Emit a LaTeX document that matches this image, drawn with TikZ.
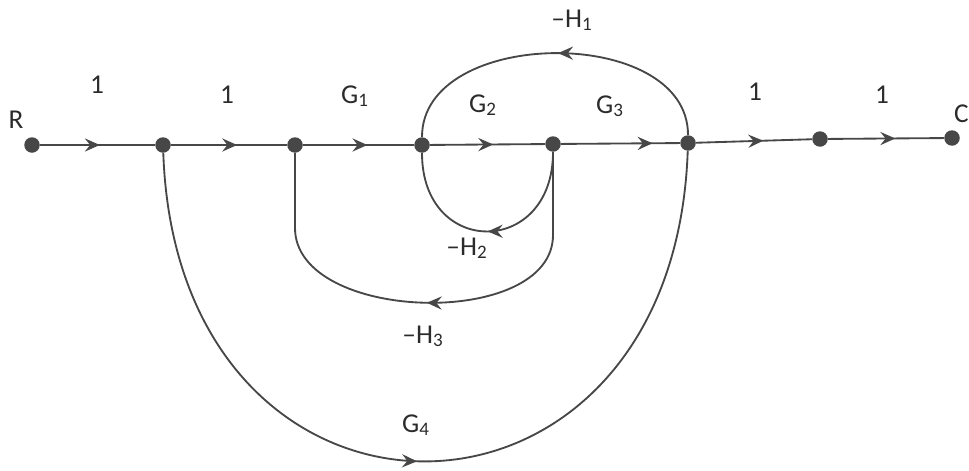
\documentclass[tikz,border=0pt]{standalone}
\usepackage{fontspec}
\setmainfont{Carlito}
\definecolor{ink}{HTML}{474747}
\definecolor{txt}{HTML}{2B2B2B}
\usetikzlibrary{arrows.meta, decorations.markings}

\begin{document}
\begin{tikzpicture}[
  dot/.style={circle, fill=ink, minimum size=0.31cm, inner sep=0pt},
  branch/.style={draw=ink, line width=1.05pt},
  flow/.style={postaction={decorate}, decoration={markings,
      mark=at position #1 with {\arrow{Stealth[length=8.5pt, width=7.5pt, inset=3pt]}}}},
  flow/.default=0.55,
  gain/.style={text=txt, anchor=base, inner sep=0pt, font=\fontsize{15.5}{18}\selectfont},
]
\useasboundingbox (0,0) rectangle (19.38,9.4);

\node[dot] (n1) at (0.64,6.5) {};
\node[dot] (n2) at (3.26,6.5) {};
\node[dot] (n3) at (5.9,6.5) {};
\node[dot] (n4) at (8.44,6.5) {};
\node[dot] (n5) at (11.06,6.52) {};
\node[dot] (n6) at (13.76,6.54) {};
\node[dot] (n7) at (16.4,6.62) {};
\node[dot] (n8) at (19.04,6.64) {};
\coordinate (h3r) at (11.06,4.7);
\coordinate (h3l) at (5.9,4.84);

\draw[branch, flow=0.52] (n1) -- (n2);
\draw[branch, flow=0.57] (n2) -- (n3);
\draw[branch, flow=0.58] (n3) -- (n4);
\draw[branch, flow=0.55] (n4) -- (n5);
\draw[branch, flow=0.77] (n5) -- (n6);
\draw[branch, flow=0.58] (n6) -- (n7);
\draw[branch, flow=0.58] (n7) -- (n8);

\draw[branch, flow=0.49] (n6) to[out=90, in=90, looseness=1.06] (n4);
\draw[branch, flow=0.5] (n5) to[out=-90, in=-90, looseness=2.05] (n4);
\draw[branch, flow=0.5] (n5) -- (h3r) to[out=-90, in=-90, looseness=0.94] (h3l) -- (n3);
\draw[branch, flow=0.49] (n2) to[out=-88, in=-92, looseness=2.01] (n6);

\node[gain] (lR) at (0.32,6.84) {R};
\node[gain] (l12) at (1.94,7.54) {1};
\node[gain] (l23) at (4.54,7.34) {1};
\node[gain] (lG1) at (7.1,7.34) {G\textsubscript{1}};
\node[gain] (lG2) at (9.66,7.16) {G\textsubscript{2}};
\node[gain] (lG3) at (12.2,7.14) {G\textsubscript{3}};
\node[gain] (l67) at (15.1,7.4) {1};
\node[gain] (l78) at (17.64,7.34) {1};
\node[gain, anchor=base east] (lC) at (19.38,6.96) {C};
\node[gain] (lH1) at (11.44,8.86) {–H\textsubscript{1}};
\node[gain] (lH2) at (9.34,4.3) {–H\textsubscript{2}};
\node[gain] (lH3) at (8.46,2.54) {–H\textsubscript{3}};
\node[gain] (lG4) at (8.32,0.76) {G\textsubscript{4}};
\end{tikzpicture}
\end{document}
